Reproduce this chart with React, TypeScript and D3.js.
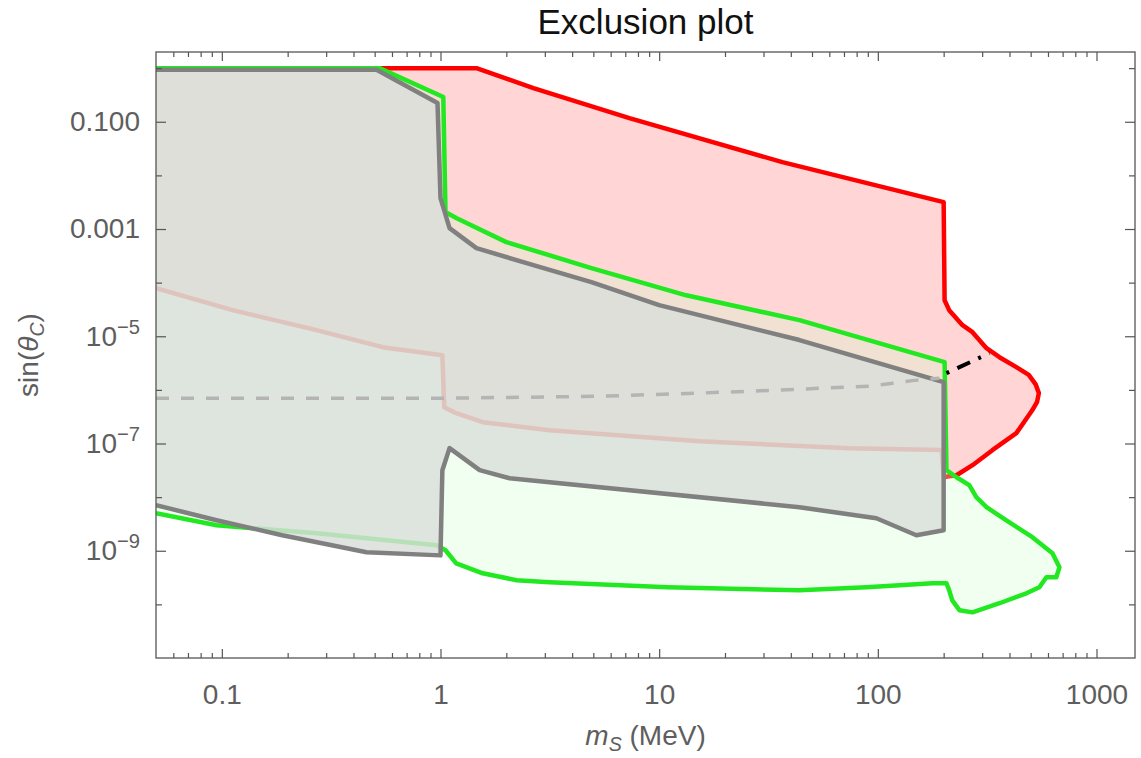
import * as d3 from "d3";
import { useEffect, useRef } from "react";

const chartTitle = "Exclusion plot";

const xTicks = [0.1, 1, 10, 100, 1000];
const xTickLabels = ["0.1", "1", "10", "100", "1000"];
const yTicks = [1e-1, 1e-3, 1e-5, 1e-7, 1e-9];
const yTickBases = ["0.100", "0.001", "10", "10", "10"];
const yTickExponents = ["", "", "\u22125", "\u22127", "\u22129"];
const yMinorTicks = [1, 1e-2, 1e-4, 1e-6, 1e-8, 1e-10];

// red region: upper edge, right lobe, then lower edge back to the left frame
const redMass = [0.05, 0.54, 1.46, 2.66, 7.31, 36.6, 200, 202, 212, 244, 271, 291, 314, 360, 430, 490, 528, 545, 535, 509, 430, 334, 271, 229, 212, 200, 196, 74.2, 15.3, 3.15, 1.56, 1.18, 1.04, 1.02, 0.543, 0.271, 0.112, 0.05];
const redSin = [1, 1, 1, 0.425, 0.117, 0.0177, 3.18e-3, 4.7e-5, 3.07e-5, 1.61e-5, 1.19e-5, 8.5e-6, 6.0e-6, 4.07e-6, 2.65e-6, 1.9e-6, 1.25e-6, 8.7e-7, 6.0e-7, 4.2e-7, 1.56e-7, 7.5e-8, 3.94e-8, 2.56e-8, 2.45e-8, 2.35e-8, 7.6e-8, 8.2e-8, 1.1e-7, 1.77e-7, 2.5e-7, 3.67e-7, 4.75e-7, 4.44e-6, 6.26e-6, 1.3e-5, 3.07e-5, 7.9e-5];

// green region
const greenMass = [0.05, 0.526, 1.03, 1.054, 1.18, 2.0, 4.9, 13.3, 43.8, 202, 206, 229, 262, 282, 314, 387, 509, 629, 677, 655, 590, 548, 478, 360, 271, 236, 219, 212, 206, 178, 88.7, 43.8, 10.9, 3.15, 2.23, 1.56, 1.18, 1.054, 0.96, 0.271, 0.0946, 0.05];
const greenSin = [1, 1, 0.289, 2.07e-3, 1.6e-3, 5.7e-4, 1.87e-4, 5.8e-5, 2.0e-5, 3.29e-6, 3.18e-8, 2.35e-8, 1.67e-8, 1.0e-8, 6.5e-9, 3.7e-9, 1.79e-9, 9.0e-10, 4.9e-10, 3.2e-10, 3.2e-10, 2.08e-10, 1.61e-10, 1.05e-10, 7.1e-11, 7.8e-11, 1.19e-10, 1.83e-10, 2.47e-10, 2.47e-10, 2.08e-10, 1.83e-10, 2.08e-10, 2.58e-10, 2.82e-10, 3.8e-10, 5.8e-10, 1.02e-9, 1.27e-9, 2.12e-9, 2.99e-9, 5.0e-9];

// gray region
const grayMass = [0.05, 0.51, 0.969, 1.0, 1.1, 1.46, 2.66, 4.9, 10.0, 43.8, 200, 200, 150, 98.5, 43.8, 2.07, 1.51, 1.1, 1.02, 1.0, 0.459, 0.189, 0.0946, 0.05];
const graySin = [0.93, 0.93, 0.223, 3.77e-3, 1.04e-3, 4.4e-4, 2.12e-4, 1.02e-4, 3.8e-5, 8.5e-6, 1.39e-6, 2.41e-9, 1.95e-9, 4.04e-9, 6.5e-9, 2.25e-8, 3.18e-8, 8.2e-8, 3.18e-8, 8.2e-10, 9.4e-10, 1.95e-9, 3.7e-9, 7.1e-9];

// dashed gray curve and its black dash-dot continuation
const dashMass = [0.05, 1.1, 5.33, 15.3, 43.8, 91.5, 117, 150, 191];
const dashSin = [7.0e-7, 7.0e-7, 7.6e-7, 8.7e-7, 1.03e-6, 1.17e-6, 1.33e-6, 1.52e-6, 1.65e-6];
const blackMass = [206, 324];
const blackSin = [2.05e-6, 4.84e-6];

const width = 1141;
const height = 758;
const plot = { left: 156, right: 1135, top: 52, bottom: 658 };
const labelColor = "#5e5e5e";
const fontFamily = "'Liberation Sans', Arial, sans-serif";

function toPoints(ms, ss) {
  return ms.map((m, i) => [m, ss[i]]);
}

function drawChart(svgElement) {
  const svg = d3.select(svgElement);
  svg.selectAll("*").remove();
  svg.attr("viewBox", `0 0 ${width} ${height}`);

  const x = d3.scaleLog().domain([0.05, 1500]).range([plot.left, plot.right]);
  const y = d3.scaleLog().domain([1e-11, 2]).range([plot.bottom, plot.top]);
  const line = d3
    .line()
    .x((d) => x(d[0]))
    .y((d) => y(d[1]));

  svg
    .append("defs")
    .append("clipPath")
    .attr("id", "plot-clip")
    .append("rect")
    .attr("x", plot.left)
    .attr("y", plot.top)
    .attr("width", plot.right - plot.left)
    .attr("height", plot.bottom - plot.top);

  const g = svg.append("g").attr("clip-path", "url(#plot-clip)");

  const regions = [
    { pts: toPoints(redMass, redSin), fill: "rgba(255,0,0,0.165)", stroke: "#ff0000", fillOpacity: 1 },
    { pts: toPoints(greenMass, greenSin), fill: "rgba(205,255,205,0.3)", stroke: "#22e822", fillOpacity: 1 },
    { pts: toPoints(grayMass, graySin), fill: "#d9ded9", stroke: "#808080", fillOpacity: 0.82 },
  ];

  regions.forEach((r) => {
    g.append("path")
      .attr("d", line(r.pts) + "Z")
      .attr("fill", r.fill)
      .attr("fill-opacity", r.fillOpacity)
      .attr("stroke", "none");
    g.append("path")
      .attr("d", line(r.pts))
      .attr("fill", "none")
      .attr("stroke", r.stroke)
      .attr("stroke-width", 4.5)
      .attr("stroke-linejoin", "round");
  });

  g.append("path")
    .attr("d", line(toPoints(dashMass, dashSin)))
    .attr("fill", "none")
    .attr("stroke", "#b4b4b4")
    .attr("stroke-width", 3.5)
    .attr("stroke-dasharray", "13,12");

  g.append("path")
    .attr("d", line(toPoints(blackMass, blackSin)))
    .attr("fill", "none")
    .attr("stroke", "#000")
    .attr("stroke-width", 4)
    .attr("stroke-dasharray", "3,9,14,9");

  // frame
  svg
    .append("rect")
    .attr("x", plot.left)
    .attr("y", plot.top)
    .attr("width", plot.right - plot.left)
    .attr("height", plot.bottom - plot.top)
    .attr("fill", "none")
    .attr("stroke", "#555")
    .attr("stroke-width", 1.3);

  const minorX = [];
  [0.01, 0.1, 1, 10, 100].forEach((dec) => {
    for (let k = 2; k <= 9; k++) {
      const v = dec * k;
      if (v > 0.05 && v < 1500) minorX.push(v);
    }
  });

  const styleAxis = (sel) => {
    sel.select(".domain").remove();
    sel.selectAll(".tick line").attr("stroke", "#555").attr("stroke-width", 1.2);
    sel.selectAll("text").attr("fill", labelColor).attr("font-size", 28).attr("font-family", fontFamily);
  };

  // bottom
  svg
    .append("g")
    .attr("transform", `translate(0,${plot.bottom})`)
    .call(d3.axisBottom(x).tickValues(xTicks).tickFormat((d, i) => xTickLabels[i]).tickSize(-9).tickPadding(26))
    .call(styleAxis);
  svg
    .append("g")
    .attr("transform", `translate(0,${plot.bottom})`)
    .call(d3.axisBottom(x).tickValues(minorX).tickFormat(() => "").tickSize(-5))
    .call(styleAxis);
  // top
  svg
    .append("g")
    .attr("transform", `translate(0,${plot.top})`)
    .call(d3.axisTop(x).tickValues(xTicks).tickFormat(() => "").tickSize(-9))
    .call(styleAxis);
  svg
    .append("g")
    .attr("transform", `translate(0,${plot.top})`)
    .call(d3.axisTop(x).tickValues(minorX).tickFormat(() => "").tickSize(-5))
    .call(styleAxis);

  // left
  const left = svg
    .append("g")
    .attr("transform", `translate(${plot.left},0)`)
    .call(d3.axisLeft(y).tickValues(yTicks).tickSize(-10).tickPadding(16))
    .call(styleAxis);
  left.selectAll(".tick text").each(function (d, i) {
    const t = d3.select(this);
    t.text(yTickBases[i]);
    if (yTickExponents[i]) {
      t.append("tspan").attr("dy", "-0.6em").attr("font-size", "0.72em").text(yTickExponents[i]);
    }
  });
  svg
    .append("g")
    .attr("transform", `translate(${plot.left},0)`)
    .call(d3.axisLeft(y).tickValues(yMinorTicks).tickFormat(() => "").tickSize(-6))
    .call(styleAxis);
  // right
  svg
    .append("g")
    .attr("transform", `translate(${plot.right},0)`)
    .call(d3.axisRight(y).tickValues(yTicks).tickFormat(() => "").tickSize(-10))
    .call(styleAxis);
  svg
    .append("g")
    .attr("transform", `translate(${plot.right},0)`)
    .call(d3.axisRight(y).tickValues(yMinorTicks).tickFormat(() => "").tickSize(-6))
    .call(styleAxis);

  // title
  svg
    .append("text")
    .attr("x", (plot.left + plot.right) / 2)
    .attr("y", 34)
    .attr("text-anchor", "middle")
    .attr("font-family", fontFamily)
    .attr("font-size", 35)
    .attr("fill", "#111")
    .text(chartTitle);

  // x label
  const xl = svg
    .append("text")
    .attr("x", (plot.left + plot.right) / 2)
    .attr("y", 745)
    .attr("text-anchor", "middle")
    .attr("font-family", fontFamily)
    .attr("font-size", 28)
    .attr("fill", labelColor);
  xl.append("tspan").attr("font-style", "italic").text("m");
  xl.append("tspan").attr("font-style", "italic").attr("font-size", "0.7em").attr("dy", "0.3em").text("S");
  xl.append("tspan").attr("dy", "-0.21em").text(" (MeV)");

  // y label
  const yl = svg
    .append("text")
    .attr("transform", `translate(38,${(plot.top + plot.bottom) / 2}) rotate(-90)`)
    .attr("text-anchor", "middle")
    .attr("font-family", fontFamily)
    .attr("font-size", 28)
    .attr("fill", labelColor);
  yl.append("tspan").text("sin(");
  yl.append("tspan").attr("font-style", "italic").text("\u03b8");
  yl.append("tspan").attr("font-style", "italic").attr("font-size", "0.7em").attr("dy", "0.3em").text("C");
  yl.append("tspan").attr("dy", "-0.21em").text(")");
}

export default function App() {
  const svgRef = useRef(null);

  useEffect(() => {
    drawChart(svgRef.current);
  }, []);

  return (
    <div>
      <style>{`body{margin:0}`}</style>
      <svg ref={svgRef} width={width} height={height} style={{ display: "block" }} role="img" aria-label={chartTitle} />
    </div>
  );
}
